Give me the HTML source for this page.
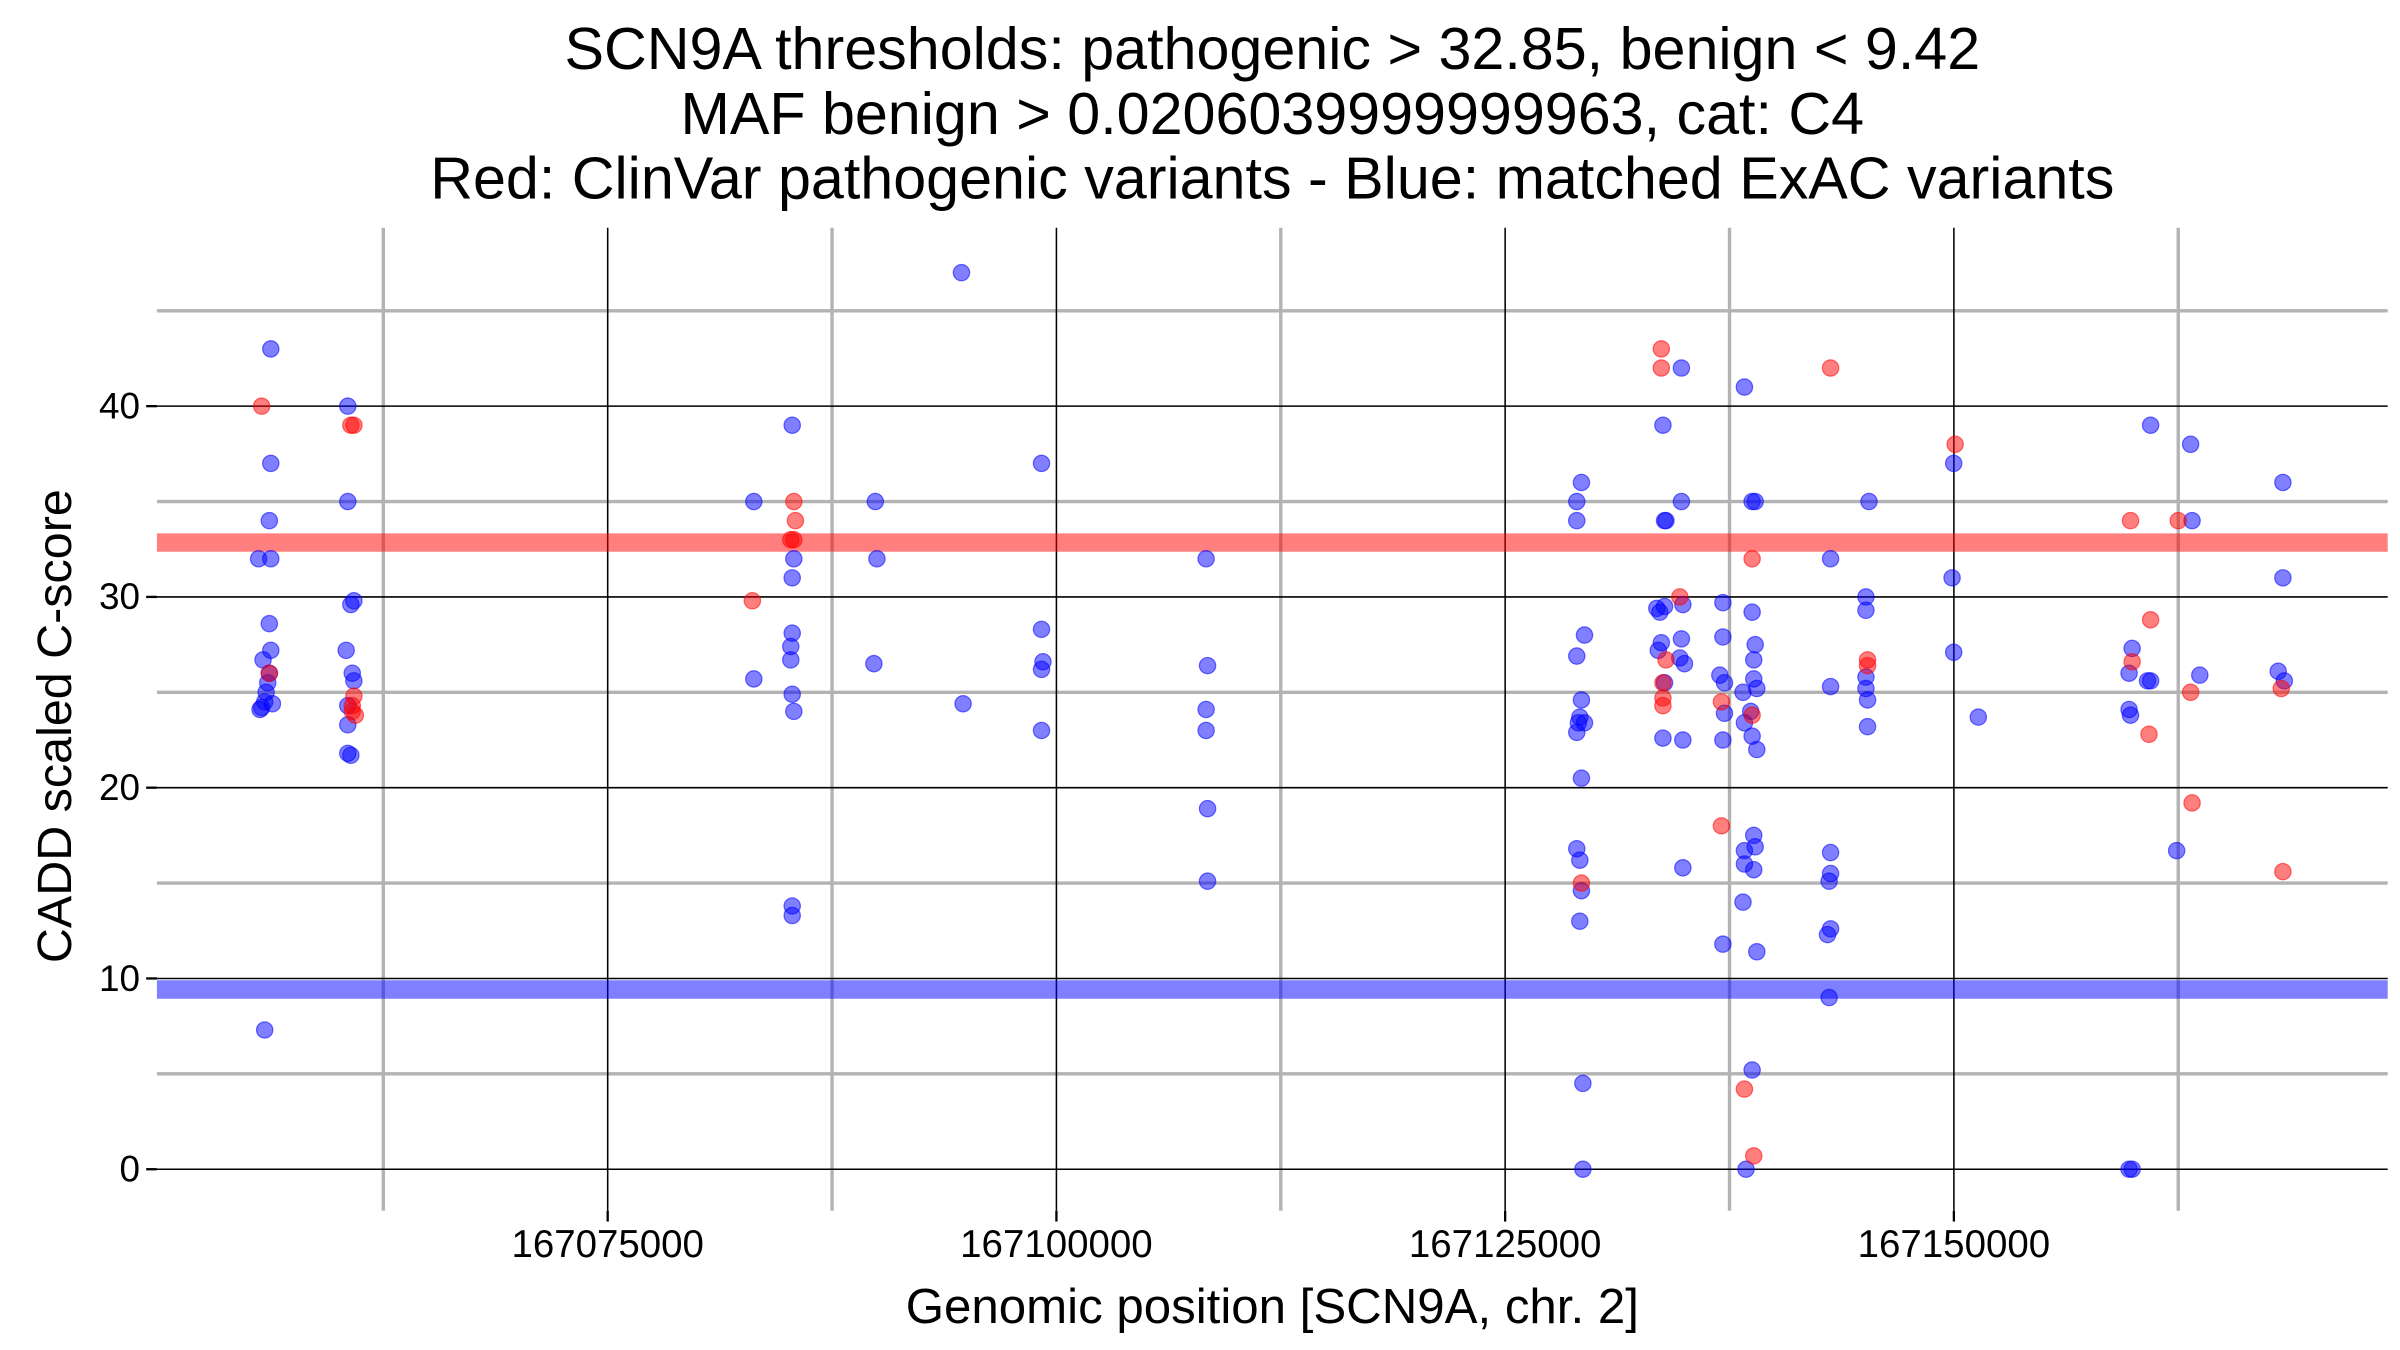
<!DOCTYPE html>
<html><head><meta charset="utf-8"><style>
html,body{margin:0;padding:0;background:#fff;}
svg{display:block;}
text{font-family:"Liberation Sans",Arial,sans-serif;fill:#000;}
</style></head><body>
<svg id="chart" width="2400" height="1350" viewBox="0 0 1560 877.5" xmlns="http://www.w3.org/2000/svg">
<g>
<text x="827" y="45" text-anchor="middle" font-size="38.5">SCN9A thresholds: pathogenic &gt; 32.85, benign &lt; 9.42</text>
<text x="827" y="87" text-anchor="middle" font-size="38.5">MAF benign &gt; 0.0206039999999963, cat: C4</text>
<text x="827" y="129" text-anchor="middle" font-size="38.5">Red: ClinVar pathogenic variants - Blue: matched ExAC variants</text>
</g>
<g id="grid"></g>
<g id="bands"></g>
<g id="points"></g>
<g id="axes"></g>
<text x="827" y="860" text-anchor="middle" font-size="32">Genomic position [SCN9A, chr. 2]</text>
<text transform="translate(46,472) rotate(-90)" text-anchor="middle" font-size="31.5">CADD scaled C-score</text>
</svg>
<script>
// x values in kb (chr. 2), y = CADD scaled C-score
const xTicks = [167075, 167100, 167125, 167150];
const xTickLabels = ["167075000", "167100000", "167125000", "167150000"];
const xMinor = [167062.5, 167087.5, 167112.5, 167137.5, 167162.5];
const yTicks = [0, 10, 20, 30, 40];
const yMinor = [5, 15, 25, 35, 45];
const thresholds = [32.85, 9.42];

const blueX = [167056.23,167056.23,167056.15,167055.55,167056.23,167056.15,167056.23,167055.80,167056.15,167056.06,167055.97,167055.89,167055.72,167055.63,167056.32,167055.89,
167060.52,167060.52,167060.86,167060.69,167060.43,167060.77,167060.86,167060.52,167060.52,167060.52,167060.69,
167083.14,167083.14,
167085.28,167085.37,167085.28,167085.28,167085.20,167085.20,167085.28,167085.37,167085.28,167085.28,
167089.91,167090.00,167089.83,167094.71,167094.80,
167099.17,167099.17,167099.25,167099.17,167099.17,
167108.34,167108.42,167108.34,167108.34,167108.42,167108.42,
167129.25,167128.99,167128.99,167129.42,167128.99,167129.25,167129.16,167129.08,167129.42,167128.99,167129.25,167128.99,167129.16,167129.25,167129.16,167129.33,167129.33,
167133.79,167133.88,167133.96,167133.45,167133.62,167133.88,167133.70,167133.53,167133.88,167133.79,
167134.82,167134.82,167134.90,167134.82,167134.73,167134.99,167134.90,167134.90,
167137.13,167137.13,167136.96,167137.22,167137.22,167137.13,167137.13,
167138.33,167138.25,167138.33,167138.33,167138.33,167138.25,167138.42,
167138.76,167138.93,167138.76,167138.93,167138.85,167138.85,167139.02,167138.68,167138.76,167139.02,167138.85,167138.93,167138.85,167139.02,167138.76,
167143.13,167143.13,167143.13,167143.13,167143.05,167143.13,167142.96,167143.05,
167145.27,167145.10,167145.10,167145.10,167145.10,167145.19,167145.19,
167149.99,167149.90,167149.99,167151.36,
167160.96,167159.93,167159.76,167159.76,167159.84,167159.76,167159.93,167160.96,167160.79,
167163.19,167163.27,167163.70,167162.41,
167168.33,167168.33,167168.07,167168.41];
const blueY = [43,37,34,32,32,28.6,27.2,26.7,26,25.5,25,24.5,24.2,24.1,24.4,7.3,
40,35,29.8,29.6,27.2,26,25.6,24.3,23.3,21.8,21.7,
35,25.7,
39,32,31,28.1,27.4,26.7,24.9,24,13.8,13.3,
35,32,26.5,47,24.4,
37,28.3,26.6,26.2,23,
32,26.4,24.1,23,18.9,15.1,
36,35,34,28,26.9,24.6,23.7,23.4,23.4,22.9,20.5,16.8,16.2,14.6,13,4.5,0,
39,34,34,29.4,29.2,29.5,27.6,27.2,25.5,22.6,
42,35,29.6,27.8,26.8,26.5,22.5,15.8,
29.7,27.9,25.9,25.5,23.9,22.5,11.8,
41,25,23.4,16.7,16,14,0,
35,35,29.2,27.5,26.7,25.7,25.2,24,22.7,22,17.5,16.9,15.7,11.4,5.2,
32,25.3,16.6,15.5,15.1,12.6,12.3,9,
35,30,29.3,25.8,25.2,24.6,23.2,
37,31,27.1,23.7,
39,27.3,26,24.1,23.8,0,0,25.6,25.6,
38,34,25.9,16.7,
36,31,26.1,25.6];
const redX = [167055.72,167056.15,
167060.69,167060.86,167060.86,167060.77,167060.77,167060.94,
167083.06,167085.37,167085.46,167085.37,167085.20,
167129.25,
167133.70,167133.70,167134.73,167133.96,167133.79,167133.79,167133.79,
167137.05,167137.05,167138.33,167138.76,167138.76,167138.85,
167143.13,167145.19,167145.19,167150.07,
167159.84,167159.93,167160.96,167160.87,
167162.50,167163.19,167163.27,167168.24,167168.33];
const redY = [40,26,
39,39,24.8,24.3,24,23.8,
29.8,35,34,33,33,
15,
43,42,30,26.7,25.5,24.7,24.3,
18,24.5,4.2,32,23.8,0.7,
42,26.7,26.4,38,
34,26.6,28.8,22.8,
34,25,19.2,25.2,15.6];

const NS = "http://www.w3.org/2000/svg";
const X0 = 102, X1 = 1552, YT = 148, YB = 787;
function sx(kb){ return 395 + (kb - 167075) * 11.667; }
function sy(v){ return 760 - v * 12.4; }
function mk(tag, attrs, parent){
  const el = document.createElementNS(NS, tag);
  for (const k in attrs) el.setAttribute(k, attrs[k]);
  parent.appendChild(el);
  return el;
}
const grid = document.getElementById('grid');
const axes = document.getElementById('axes');
const bands = document.getElementById('bands');
const pts = document.getElementById('points');

yMinor.forEach(v => {
  const l = mk('line', {x1:X0, x2:X1, y1:sy(v), y2:sy(v), stroke:'#b3b3b3', 'stroke-width':2.2}, grid);
  
  
});
xMinor.forEach(v => {
  const l = mk('line', {x1:sx(v), x2:sx(v), y1:YT, y2:YB, stroke:'#b3b3b3', 'stroke-width':2.2}, grid);
  
  
});
yTicks.forEach(v => {
  const l = mk('line', {x1:X0, x2:X1, y1:sy(v), y2:sy(v), stroke:'#000', 'stroke-width':1}, grid);
  
  
  const t = mk('line', {x1:X0-7, x2:X0, y1:sy(v), y2:sy(v), stroke:'#000', 'stroke-width':1.5}, axes);
  
  
  const tx = mk('text', {x:X0-11, y:sy(v)+8, 'text-anchor':'end', 'font-size':24}, axes);
  
  
  tx.textContent = String(v);
});
xTicks.forEach((v, i) => {
  const l = mk('line', {x1:sx(v), x2:sx(v), y1:YT, y2:YB, stroke:'#000', 'stroke-width':1}, grid);
  
  
  const t = mk('line', {x1:sx(v), x2:sx(v), y1:YB, y2:YB+7, stroke:'#000', 'stroke-width':1.5}, axes);
  
  
  const tx = mk('text', {x:sx(v), y:YB+30, 'text-anchor':'middle', 'font-size':25}, axes);
  
  
  tx.textContent = xTickLabels[i];
});
thresholds.forEach((v, i) => {
  const b = mk('line', {x1:X0, x2:X1, y1:sy(v), y2:sy(v), stroke: i === 0 ? 'rgba(255,0,0,0.5)' : 'rgba(0,0,255,0.5)', 'stroke-width':12}, bands);
  
  
});
blueX.forEach((x, i) => {
  const c = mk('circle', {cx:sx(x), cy:sy(blueY[i]), r:5.3, fill:'rgba(0,0,255,0.5)', stroke:'rgba(0,0,255,0.55)', 'stroke-width':0.8}, pts);
  
  
});
redX.forEach((x, i) => {
  const c = mk('circle', {cx:sx(x), cy:sy(redY[i]), r:5.3, fill:'rgba(255,0,0,0.5)', stroke:'rgba(255,0,0,0.55)', 'stroke-width':0.8}, pts);
  
  
});
</script>
</body></html>
